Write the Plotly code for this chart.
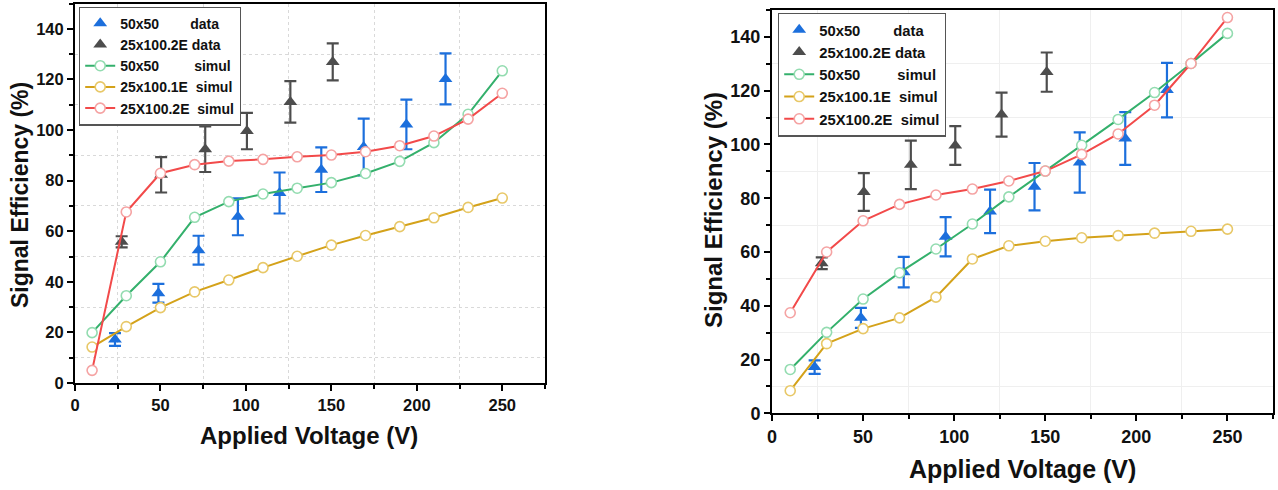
import plotly.graph_objects as go

# ---------------- data ----------------
V_SIM = [10, 30, 50, 70, 90, 110, 130, 150, 170, 190, 210, 230, 250]

# measured data (same in both panels)
V_DATA_5050 = [23.4, 48.8, 72.3, 95.3, 119.7, 144.1, 168.9, 193.9, 216.8]
EFF_DATA_5050 = [17.2, 35.5, 52.5, 65.7, 75.1, 84.3, 93.3, 102.2, 120.2]
ERR_DATA_5050 = [2.5, 3.7, 5.7, 7.3, 8.1, 8.8, 11.2, 9.8, 10.1]

V_DATA_25 = [27.3, 50.4, 76.2, 100.6, 126.0, 150.8]
EFF_DATA_25 = [55.8, 82.3, 92.4, 99.6, 111.1, 126.9]
ERR_DATA_25 = [2.2, 7.0, 9.0, 7.2, 8.2, 7.3]

# left panel simulations
SIM_5050_L = [19.9, 34.5, 47.9, 65.5, 71.7, 74.7, 77.0, 79.2, 82.8, 87.6, 95.0, 106.2, 123.4]
SIM_1E_L = [14.2, 22.3, 29.8, 36.0, 40.7, 45.6, 50.1, 54.5, 58.3, 61.8, 65.3, 69.4, 73.1]
SIM_2E_L = [5.0, 67.6, 82.9, 86.3, 87.7, 88.4, 89.4, 90.1, 91.4, 93.8, 97.6, 104.3, 114.5]

# right panel simulations
SIM_5050_R = [16.3, 30.1, 42.5, 52.3, 61.1, 70.4, 80.5, 90.1, 99.7, 109.3, 119.3, 130.1, 141.3]
SIM_1E_R = [8.4, 25.9, 31.5, 35.5, 43.2, 57.4, 62.3, 64.0, 65.3, 66.1, 67.0, 67.7, 68.5]
SIM_2E_R = [37.4, 60.0, 71.6, 77.7, 81.2, 83.4, 86.4, 90.1, 96.3, 103.9, 114.6, 130.1, 147.2]

NB = "\u00a0"
NAMES = [
    "50x50" + NB * 8 + "data",
    "25x100.2E data",
    "50x50" + NB * 9 + "simul",
    "25x100.1E" + NB * 2 + "simul",
    "25X100.2E" + NB * 2 + "simul",
]

# ---------------- styles ----------------
BLUE = "#1c6fdc"
GRAY = "#4d4d4d"
GREEN = "#34b06c"
GREEN_L = "#93dcb0"
YEL = "#d4a21a"
YEL_L = "#e8c868"
RED = "#f24a4a"
RED_L = "#f5a3a3"
FONT = "Liberation Sans"
W, H = 1278, 490


def fx(px):
    return px / W


def fy(py):
    return 1 - py / H


fig = go.Figure()


def add_panel(xa, ya, leg, sims):
    fig.add_trace(go.Scatter(
        x=V_DATA_5050, y=EFF_DATA_5050, mode="markers", name=NAMES[0],
        xaxis=xa, yaxis=ya, legend=leg,
        marker=dict(symbol="triangle-up", size=12, color=BLUE),
        error_y=dict(type="data", array=ERR_DATA_5050, color=BLUE, thickness=2.2, width=6)))
    fig.add_trace(go.Scatter(
        x=V_DATA_25, y=EFF_DATA_25, mode="markers", name=NAMES[1],
        xaxis=xa, yaxis=ya, legend=leg,
        marker=dict(symbol="triangle-up", size=12, color=GRAY),
        error_y=dict(type="data", array=ERR_DATA_25, color=GRAY, thickness=2.2, width=6)))
    for vals, name, c, cl in zip(sims, NAMES[2:], [GREEN, YEL, RED], [GREEN_L, YEL_L, RED_L]):
        fig.add_trace(go.Scatter(
            x=V_SIM, y=vals, mode="lines+markers", name=name,
            xaxis=xa, yaxis=ya, legend=leg,
            line=dict(color=c, width=2),
            marker=dict(symbol="circle", size=10, color="white", line=dict(color=cl, width=1.6))))


add_panel("x", "y", "legend", [SIM_5050_L, SIM_1E_L, SIM_2E_L])
add_panel("x2", "y2", "legend2", [SIM_5050_R, SIM_1E_R, SIM_2E_R])


def xax(domain, anchor, fs, griddash, gridcolor):
    return dict(
        domain=domain, anchor=anchor, range=[0, 275], dtick=50, tick0=0, automargin=False,
        showgrid=False, zeroline=False, showline=True, linecolor="black", linewidth=2,
        mirror=True, ticks="outside", ticklen=6, tickwidth=2, tickcolor="black",
        tickfont=dict(family=FONT, size=fs, color="#111", weight="bold"),
        minor=dict(dtick=25, ticks="outside", ticklen=4, tickwidth=1.5, tickcolor="black",
                   showgrid=True, gridcolor=gridcolor, griddash=griddash, gridwidth=1),
        fixedrange=True)


def yax(domain, anchor, fs, griddash, gridcolor):
    return dict(
        domain=domain, anchor=anchor, range=[0, 150], dtick=20, tick0=0, automargin=False,
        showgrid=False, zeroline=False, showline=True, linecolor="black", linewidth=2,
        mirror=True, ticks="outside", ticklen=6, tickwidth=2, tickcolor="black",
        tickfont=dict(family=FONT, size=fs, color="#111", weight="bold"),
        minor=dict(dtick=10, ticks="outside", ticklen=4, tickwidth=1.5, tickcolor="black",
                   showgrid=True, gridcolor=gridcolor, griddash=griddash, gridwidth=1),
        fixedrange=True)


# pixel-based domains (screen pixels of the reference)
L_X = [fx(75), fx(545)]
L_Y = [fy(383), fy(3.5)]
R_X = [fx(772), fx(1273)]
R_Y = [fy(413.3), fy(10)]

leg_common = dict(
    bgcolor="white", bordercolor="#555", borderwidth=1.2,
    xanchor="left", yanchor="top", tracegroupgap=0, itemwidth=30,
)

fig.update_layout(
    width=W, height=H,
    margin=dict(l=0, r=0, t=0, b=0, autoexpand=False),
    paper_bgcolor="white", plot_bgcolor="white",
    showlegend=True,
    xaxis=xax(L_X, "y", 16.5, "dot", "#d9d9d9"),
    yaxis=yax(L_Y, "x", 16.5, "dot", "#d9d9d9"),
    xaxis2=xax(R_X, "y2", 18, "solid", "#efefef"),
    yaxis2=yax(R_Y, "x2", 18, "solid", "#efefef"),
    legend=dict(x=fx(79), y=fy(6.5),
                font=dict(family=FONT, size=14, color="#111", weight="bold"), **leg_common),
    legend2=dict(x=fx(778), y=fy(12.5),
                 font=dict(family=FONT, size=14.8, color="#111", weight="bold"), **leg_common),
)

TFONT = dict(family=FONT, color="#111", weight="bold")
annots = [
    dict(text="Signal Efficiency (%)", x=fx(20), y=fy(195), textangle=-90, size=23),
    dict(text="Applied Voltage (V)", x=fx(309), y=fy(435), textangle=0, size=24),
    dict(text="Signal Efficiency (%)", x=fx(713), y=fy(210), textangle=-90, size=24),
    dict(text="Applied Voltage (V)", x=fx(1022), y=fy(469), textangle=0, size=25),
]
for a in annots:
    fig.add_annotation(text=a["text"], x=a["x"], y=a["y"], xref="paper", yref="paper",
                       xanchor="center", yanchor="middle", showarrow=False,
                       textangle=a["textangle"], font=dict(size=a["size"], **TFONT))

# remove the default page margin so the figure fills the window exactly
fig.write_html("out.html", config={"displayModeBar": False},
               post_script="document.body.style.margin='0';")
